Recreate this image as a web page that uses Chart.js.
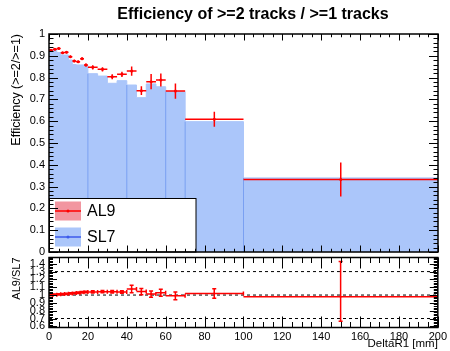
<!DOCTYPE html>
<html lang="en">
<head>
<meta charset="UTF-8">
<title>Efficiency of >=2 tracks / >=1 tracks</title>
<script src="https://cdn.jsdelivr.net/npm/chart.js"></script>
<style>
    body { margin: 0; background: #fff; }
    #wrap { position: relative; width: 450px; height: 351px; overflow: hidden; }
    #wrap canvas { position: absolute; left: 0; top: 0; }
    #title {
        position: absolute; top: 5px; left: 253px; transform: translateX(-50%);
        white-space: nowrap; font: bold 16px "Liberation Sans", Arial, sans-serif; color: #000;
    }
</style>
</head>
<body>
<div id="wrap">
    <canvas id="effPlot" width="450" height="351"></canvas>
    <canvas id="ratioPlot" width="450" height="351"></canvas>
    <div id="title">Efficiency of &gt;=2 tracks / &gt;=1 tracks</div>
</div>
<script>
// bins in DeltaR1 [mm]
const binEdges = [0, 2, 4, 6, 8, 10, 12, 14, 16, 18, 20, 25, 30, 35, 40, 45, 50, 55, 60, 70, 100, 200];
// SL7 efficiency (filled histogram)
const sl7Eff = [0.927, 0.927, 0.915, 0.904, 0.904, 0.881, 0.860, 0.858, 0.858, 0.856,
                0.818, 0.807, 0.774, 0.786, 0.766, 0.708, 0.771, 0.758, 0.735, 0.598, 0.340];
// edges where the SL7 histogram shows a darker line
const sl7EdgeLines = [20, 40, 60, 70, 100];
// AL9 efficiency (points)
const al9Eff = [0.926, 0.930, 0.934, 0.914, 0.916, 0.896, 0.876, 0.873, 0.887, 0.858,
                0.847, 0.838, 0.804, 0.815, 0.830, 0.740, 0.781, 0.789, 0.738, 0.609, 0.333];
const al9Err = [0.005, 0.005, 0.005, 0.005, 0.005, 0.005, 0.006, 0.006, 0.006, 0.007,
                0.010, 0.010, 0.011, 0.012, 0.021, 0.020, 0.035, 0.030, 0.035, 0.034, 0.078];
// AL9/SL7 ratio
const ratioVal = [1.000, 1.005, 1.010, 1.012, 1.015, 1.020, 1.025, 1.030, 1.035, 1.040,
                  1.040, 1.043, 1.043, 1.040, 1.077, 1.045, 1.013, 1.030, 0.990, 1.020, 0.978];
const ratioErrUp = [0.008, 0.008, 0.008, 0.008, 0.008, 0.008, 0.008, 0.009, 0.009, 0.010,
                    0.015, 0.015, 0.016, 0.016, 0.048, 0.040, 0.040, 0.045, 0.050, 0.060, 0.451];
const ratioErrDown = [0.008, 0.008, 0.008, 0.008, 0.008, 0.008, 0.008, 0.009, 0.009, 0.010,
                      0.015, 0.015, 0.016, 0.016, 0.048, 0.040, 0.040, 0.045, 0.050, 0.060, 0.313];
const ratioRefLines = [0.7, 1.0, 1.3];

const xTicks = [0, 20, 40, 60, 80, 100, 120, 140, 160, 180, 200];
const effTicks = [0, 0.1, 0.2, 0.3, 0.4, 0.5, 0.6, 0.7, 0.8, 0.9, 1];
const ratioTicks = [0.6, 0.7, 0.8, 0.9, 1.0, 1.1, 1.2, 1.3, 1.4];

const RED = '#ff0000';
const BLUE_FILL = 'rgb(171, 198, 250)';
const BLUE_EDGE = 'rgb(122, 160, 242)';

Chart.defaults.font.family = "'Liberation Sans', Arial, sans-serif";
Chart.defaults.color = '#000';

const nBins = sl7Eff.length;
const centers = sl7Eff.map((v, i) => (binEdges[i] + binEdges[i + 1]) / 2);
const fmt = v => String(+v.toFixed(2));

// histogram outline as step points
const sl7Steps = binEdges.map((e, i) => ({ x: e, y: sl7Eff[Math.min(i, nBins - 1)] }));
const edgePts = [];
sl7EdgeLines.forEach(e => {
    const i = binEdges.indexOf(e);
    edgePts.push({ x: e, y: 0 }, { x: e, y: Math.min(sl7Eff[i - 1], sl7Eff[i]) }, { x: e, y: null });
});

// ROOT style frame with ticks pointing inwards
function drawFrame(chart, o) {
    const { ctx, chartArea: a, scales: { x, y } } = chart;
    ctx.save();
    ctx.strokeStyle = '#000';
    ctx.lineWidth = 1;
    ctx.beginPath();
    for (let k = Math.ceil(x.min / o.xMinor); k * o.xMinor <= x.max + 1e-9; k++) {
        const v = k * o.xMinor;
        const px = Math.round(x.getPixelForValue(v)) + 0.5;
        const len = (k % o.xPer === 0) ? o.xLen : o.xLen / 2;
        ctx.moveTo(px, a.bottom); ctx.lineTo(px, a.bottom - len);
        ctx.moveTo(px, a.top); ctx.lineTo(px, a.top + len);
    }
    for (let k = Math.ceil(y.min / o.yMinor - 1e-6); k * o.yMinor <= y.max + 1e-9; k++) {
        const v = k * o.yMinor;
        const py = Math.round(y.getPixelForValue(v)) + 0.5;
        const len = (k % o.yPer === 0) ? o.yLen : o.yLen / 2;
        ctx.moveTo(a.left, py); ctx.lineTo(a.left + len, py);
        ctx.moveTo(a.right, py); ctx.lineTo(a.right - len, py);
    }
    ctx.stroke();
    ctx.lineWidth = 1.5;
    ctx.strokeRect(a.left, a.top, a.right - a.left, a.bottom - a.top);
    ctx.restore();
}

function drawErrors(chart, vals, up, down, cap) {
    const { ctx, chartArea: a, scales: { x, y } } = chart;
    ctx.save();
    ctx.beginPath();
    ctx.rect(a.left, a.top, a.right - a.left, a.bottom - a.top);
    ctx.clip();
    ctx.strokeStyle = RED;
    ctx.lineWidth = 1.5;
    ctx.beginPath();
    vals.forEach((v, i) => {
        const x0 = x.getPixelForValue(binEdges[i]);
        const x1 = x.getPixelForValue(binEdges[i + 1]);
        const xc = x.getPixelForValue(centers[i]);
        const yc = y.getPixelForValue(v);
        const yt = y.getPixelForValue(v + up[i]);
        const yb = y.getPixelForValue(v - down[i]);
        ctx.moveTo(x0, yc); ctx.lineTo(x1, yc);
        ctx.moveTo(xc, yt); ctx.lineTo(xc, yb);
        if (cap) {
            ctx.moveTo(xc - cap, yt); ctx.lineTo(xc + cap, yt);
            ctx.moveTo(xc - cap, yb); ctx.lineTo(xc + cap, yb);
            ctx.moveTo(x1, yc - cap); ctx.lineTo(x1, yc + cap);
        }
    });
    ctx.stroke();
    ctx.restore();
}

function drawLegend(chart) {
    const { ctx } = chart;
    ctx.save();
    ctx.fillStyle = '#fff';
    ctx.fillRect(49.5, 198.5, 146.5, 53.5);
    ctx.strokeStyle = '#000';
    ctx.lineWidth = 1;
    ctx.strokeRect(49.5, 198.5, 146.5, 53.5);
    const rows = [
        { label: 'AL9', fill: 'rgb(242, 150, 160)', line: RED, y: 211 },
        { label: 'SL7', fill: BLUE_FILL, line: 'rgb(60, 90, 235)', y: 237 }
    ];
    rows.forEach(r => {
        ctx.fillStyle = r.fill;
        ctx.fillRect(55, r.y - 9.5, 26, 19);
        ctx.strokeStyle = r.line;
        ctx.lineWidth = 1.5;
        ctx.beginPath(); ctx.moveTo(55, r.y); ctx.lineTo(81, r.y); ctx.stroke();
        ctx.fillStyle = r.line;
        ctx.beginPath(); ctx.arc(68, r.y, 1.5, 0, Math.PI * 2); ctx.fill();
        ctx.fillStyle = '#000';
        ctx.font = "16px 'Liberation Sans', Arial, sans-serif";
        ctx.textBaseline = 'middle';
        ctx.fillText(r.label, 87, r.y + 1);
    });
    ctx.restore();
}

// upper panel: efficiencies
new Chart(document.getElementById('effPlot'), {
    type: 'line',
    data: {
        datasets: [
            {
                label: 'AL9', type: 'scatter', data: centers.map((c, i) => ({ x: c, y: al9Eff[i] })),
                pointRadius: 1.5, pointBackgroundColor: RED, pointBorderWidth: 0, showLine: false, order: 0
            },
            {
                label: 'edges', data: edgePts, borderColor: BLUE_EDGE, borderWidth: 1,
                pointRadius: 0, spanGaps: false, fill: false, order: 1
            },
            {
                label: 'SL7', data: sl7Steps, stepped: true, fill: 'origin',
                backgroundColor: BLUE_FILL, borderColor: BLUE_FILL, borderWidth: 1,
                pointRadius: 0, order: 2
            }
        ]
    },
    options: {
        responsive: false,
        animation: false,
        layout: { padding: { left: 0, right: 12, top: 34, bottom: 99 } },
        plugins: { legend: { display: false }, tooltip: { enabled: false } },
        scales: {
            x: { type: 'linear', min: 0, max: 200, display: false },
            y: {
                type: 'linear', min: 0, max: 1,
                afterBuildTicks: s => { s.ticks = effTicks.map(v => ({ value: v })); },
                afterFit: s => { s.width = 49; },
                grid: { display: false, drawTicks: false },
                border: { display: false },
                ticks: { padding: 4, font: { size: 11 }, callback: v => fmt(v) },
                title: {
                    display: true, text: 'Efficiency (>=2/>=1)', align: 'end',
                    font: { size: 12.5 }, padding: { top: 9, bottom: 0 }
                }
            }
        }
    },
    plugins: [{
        id: 'effDecor',
        afterDatasetsDraw(chart) {
            drawErrors(chart, al9Eff, al9Err, al9Err, 0);
            drawLegend(chart);
        },
        afterDraw(chart) {
            drawFrame(chart, { xMinor: 5, xPer: 4, xLen: 6.5, yMinor: 0.02, yPer: 5, yLen: 9 });
        }
    }]
});

// lower panel: ratio
new Chart(document.getElementById('ratioPlot'), {
    type: 'line',
    data: {
        datasets: [
            {
                label: 'AL9/SL7', type: 'scatter', data: centers.map((c, i) => ({ x: c, y: ratioVal[i] })),
                pointRadius: 1, pointBackgroundColor: RED, pointBorderWidth: 0, showLine: false, order: 0
            },
            ...ratioRefLines.map(r => ({
                label: 'ref ' + r, data: [{ x: 0, y: r }, { x: 200, y: r }],
                borderColor: '#000', borderWidth: 1, borderDash: [3, 3], pointRadius: 0, fill: false, order: 1
            }))
        ]
    },
    options: {
        responsive: false,
        animation: false,
        layout: { padding: { left: 0, right: 12, top: 257.5, bottom: 0 } },
        plugins: { legend: { display: false }, tooltip: { enabled: false } },
        scales: {
            x: {
                type: 'linear', min: 0, max: 200,
                afterBuildTicks: s => { s.ticks = xTicks.map(v => ({ value: v })); },
                afterFit: s => { s.height = 23.5; },
                grid: { display: false, drawTicks: false },
                border: { display: false },
                ticks: { padding: 3, font: { size: 11 }, maxRotation: 0, autoSkip: false, callback: v => fmt(v) },
                title: {
                    display: true, text: 'DeltaR1 [mm]', align: 'end',
                    font: { size: 11.5 }, padding: { top: 0, bottom: 0 }
                }
            },
            y: {
                type: 'linear', min: 0.585, max: 1.48,
                afterBuildTicks: s => { s.ticks = ratioTicks.map(v => ({ value: v })); },
                afterFit: s => { s.width = 49; },
                grid: { display: false, drawTicks: false },
                border: { display: false },
                ticks: { padding: 4, font: { size: 11 }, autoSkip: false, callback: v => fmt(v) },
                title: {
                    display: true, text: 'AL9/SL7', align: 'end',
                    font: { size: 11 }, padding: { top: 10.5, bottom: 0 }
                }
            }
        }
    },
    plugins: [{
        id: 'ratioDecor',
        afterDatasetsDraw(chart) {
            drawErrors(chart, ratioVal, ratioErrUp, ratioErrDown, 2);
        },
        afterDraw(chart) {
            drawFrame(chart, { xMinor: 5, xPer: 4, xLen: 11, yMinor: 0.02, yPer: 5, yLen: 8 });
        }
    }]
});
</script>
</body>
</html>
